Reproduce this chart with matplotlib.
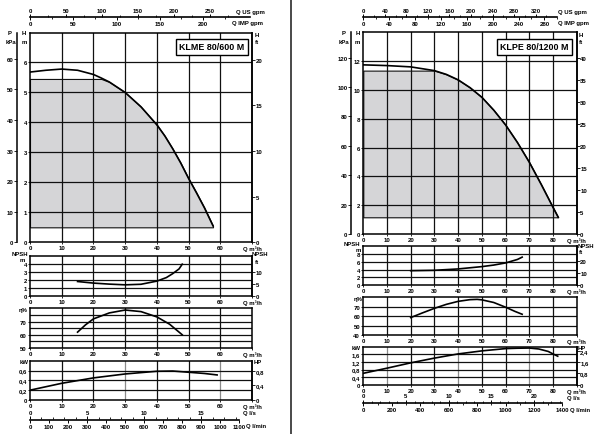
import numpy as np
import matplotlib
matplotlib.use("Agg")
import matplotlib.pyplot as plt
from matplotlib.lines import Line2D
from matplotlib import font_manager

plt.rcParams["font.family"] = "Liberation Sans"
plt.rcParams["font.weight"] = "bold"

W, H = 603, 435
FS = 4.3

# unit conversions
M_TO_KPA = 9.80665
M_TO_FT = 3.28084
KW_TO_HP = 1.34102
M3H_TO_USGPM = 4.40287
M3H_TO_IMPGPM = 3.66615
M3H_TO_LS = 1 / 3.6
M3H_TO_LMIN = 1000 / 60

# ---- KLME 80/600 M (left) ----
l_title = "KLME 80/600 M"
l_q_head = [0, 5, 10, 15, 20, 22.5, 25, 30, 35, 40, 42.5, 45, 47.5, 50, 52.5, 55, 57.7]
l_head = [5.68, 5.74, 5.78, 5.74, 5.6, 5.48, 5.35, 5.0, 4.52, 3.92, 3.55, 3.12, 2.65, 2.13, 1.65, 1.15, 0.55]
l_area_top = 5.45
l_area_bottom = 0.5
l_q_npsh = [15, 20, 25, 30, 35, 40, 43, 45, 47, 48]
l_npsh = [1.8, 1.6, 1.47, 1.38, 1.45, 1.85, 2.3, 2.8, 3.4, 4.0]
l_q_eff = [15, 17.5, 20, 25, 30, 35, 40, 44, 48]
l_eff = [62, 67.5, 72, 76.5, 78.7, 77.5, 73.5, 68, 60]
l_q_pow = [0, 10, 20, 30, 40, 45, 50, 55, 59]
l_pow = [0.2, 0.34, 0.45, 0.53, 0.585, 0.59, 0.565, 0.54, 0.51]

# ---- KLPE 80/1200 M (right) ----
r_title = "KLPE 80/1200 M"
r_q_head = [0, 10, 20, 30, 35, 40, 45, 50, 55, 60, 65, 70, 75, 80, 82.2]
r_head = [11.74, 11.69, 11.6, 11.34, 11.08, 10.7, 10.16, 9.49, 8.6, 7.57, 6.35, 4.98, 3.45, 1.85, 1.16]
r_area_top = 11.34
r_area_bottom = 1.16
r_q_npsh = [20, 30, 40, 50, 55, 60, 65, 67]
r_npsh = [3.7, 3.8, 4.15, 4.75, 5.15, 5.7, 6.6, 7.2]
r_q_eff = [20, 25, 30, 35, 40, 45, 48, 50, 55, 60, 64, 67]
r_eff = [58.5, 63.5, 68.3, 72.5, 75.7, 77.5, 77.8, 77.3, 74.5, 69.5, 65, 62]
r_q_pow = [0, 10, 20, 30, 40, 50, 60, 65, 70, 74, 78, 80, 82]
r_pow = [0.6, 0.87, 1.15, 1.4, 1.62, 1.78, 1.9, 1.92, 1.93, 1.88, 1.75, 1.62, 1.5]

fig = plt.figure(figsize=(W / 100, H / 100), dpi=100)


def px_axes(x0, y0, x1, y1):
    return fig.add_axes([x0 / W, 1 - y1 / H, (x1 - x0) / W, (y1 - y0) / H])


def ptext(x, y, s, **kw):
    kw.setdefault("fontsize", FS)
    kw.setdefault("ha", "center")
    kw.setdefault("va", "center")
    return fig.text(x / W, 1 - y / H, s, **kw)


def fmt(v):
    return f"{v:g}".replace(".", ",")


def box(ax, xmax, ylim, yticks, ygrid, gray_x=()):
    ax.set_xlim(0, xmax)
    ax.set_ylim(*ylim)
    xt = list(range(0, xmax + 1, 10))
    ax.set_xticks(xt)
    ax.set_xticklabels([str(v) for v in xt[:-1]] + ["Q m³/h"])
    ax.set_yticks(yticks)
    ax.set_yticklabels([fmt(v) for v in yticks])
    for v in xt[1:-1]:
        ax.axvline(v, color="#8a8a8a" if v in gray_x else "#111111", lw=0.9, zorder=2.5)
    for v in ygrid:
        ax.axhline(v, color="#111111", lw=0.9, zorder=2.5)
    for s in ax.spines.values():
        s.set_linewidth(1.1)
    ax.tick_params(labelsize=FS, length=1.5, width=0.6, pad=0.8)


def right_axis(ax, factor, ticks):
    t = ax.twinx()
    lo, hi = ax.get_ylim()
    t.set_ylim(lo * factor, hi * factor)
    t.set_yticks(ticks)
    t.set_yticklabels([fmt(v) for v in ticks])
    for k in ("left", "top", "bottom"):
        t.spines[k].set_visible(False)
    t.spines["right"].set_linewidth(1.1)
    t.tick_params(labelsize=FS, length=2, width=0.6, pad=0.5)
    return t


def kpa_axis(ax, ticks, offset_px):
    t = ax.twinx()
    lo, hi = ax.get_ylim()
    t.set_ylim(lo * M_TO_KPA, hi * M_TO_KPA)
    t.yaxis.tick_left()
    t.set_yticks(ticks)
    t.set_yticklabels([fmt(v) for v in ticks])
    for k in ("right", "top", "bottom"):
        t.spines[k].set_visible(False)
    t.spines["left"].set_position(("outward", offset_px * 0.72))
    t.spines["left"].set_linewidth(1.1)
    t.tick_params(labelsize=FS, length=2, width=0.6, pad=0.5)


def scale_line(x0, x1, y, xmax, bound, top_conv, top_ticks, top_minor, bot_conv, bot_ticks, bot_minor):
    a = px_axes(x0, y - 0.5, x1, y)
    a.set_xlim(0, xmax)
    a.set_ylim(0, 1)
    a.patch.set_visible(False)
    a.set_yticks([])
    for k in ("left", "right", "top"):
        a.spines[k].set_visible(False)
    a.spines["bottom"].set_linewidth(1.2)
    a.spines["bottom"].set_bounds(0, bound)
    a.set_xticks(np.array(bot_ticks) / bot_conv)
    a.set_xticklabels([str(v) for v in bot_ticks])
    a.set_xticks(np.array(bot_minor) / bot_conv, minor=True)
    a.tick_params(axis="x", which="major", labelsize=FS, length=2.2, width=0.7, pad=0.8)
    a.tick_params(axis="x", which="minor", length=1.6, width=0.6)
    b = a.twiny()
    b.set_xlim(0, xmax)
    for s in b.spines.values():
        s.set_visible(False)
    b.set_xticks(np.array(top_ticks) / top_conv)
    b.set_xticklabels([str(v) for v in top_ticks])
    b.set_xticks(np.array(top_minor) / top_conv, minor=True)
    b.tick_params(axis="x", which="major", labelsize=FS, length=2.2, width=0.7, pad=0.8)
    b.tick_params(axis="x", which="minor", length=1.6, width=0.6)


def title_font():
    try:
        font_manager.findfont("Liberation Sans Narrow", fallback_to_default=False)
        return "Liberation Sans Narrow", 7.2
    except ValueError:
        return "Liberation Sans", 6.4


def panel(x0, x1, rows, xmax, head, npsh, eff, pw, title, tpos, labels):
    # rows: y-extents (top, bottom) of main, npsh, eff, power
    fam, tsize = title_font()

    # main head chart
    q, hd, hmax, hstep, a_top, a_bot, kpa_t, ft_t = head
    ax = px_axes(x0, rows[0][0], x1, rows[0][1])
    box(ax, xmax, (0, hmax), np.arange(0, hmax - hstep / 2, hstep), np.arange(hstep, hmax - hstep / 2, hstep))
    q = np.array(q)
    hd = np.array(hd)
    ax.fill_between(q, a_bot, np.minimum(hd, a_top), facecolor="#d5d5d7",
                    edgecolor="#111111", lw=0.8, zorder=2)
    ax.plot(q, hd, color="black", lw=1.2, zorder=3)
    right_axis(ax, M_TO_FT, ft_t)
    kpa_axis(ax, kpa_t, x0 - labels["kpa_x"])
    ptext(tpos[0], tpos[1], title, fontsize=tsize, family=fam, fontweight="bold",
          bbox=dict(boxstyle="square,pad=0.35", fc="white", ec="black", lw=1.0))

    # npsh
    q, v, ymax, yt, yg, ft_t = npsh
    ax = px_axes(x0, rows[1][0], x1, rows[1][1])
    box(ax, xmax, (0, ymax), yt, yg)
    ax.plot(q, v, color="black", lw=1.2, zorder=3)
    right_axis(ax, M_TO_FT, ft_t)

    # efficiency
    q, v, ylim, yt, yg = eff
    ax = px_axes(x0, rows[2][0], x1, rows[2][1])
    box(ax, xmax, ylim, yt, yg)
    ax.plot(q, v, color="black", lw=1.2, zorder=3)

    # power
    q, v, ymax, yt, yg, hp_t, gx = pw
    ax = px_axes(x0, rows[3][0], x1, rows[3][1])
    box(ax, xmax, (0, ymax), yt, yg, gray_x=gx)
    ax.plot(q, v, color="black", lw=1.2, zorder=3)
    right_axis(ax, KW_TO_HP, hp_t)

    for s, (x, y) in labels["texts"]:
        ptext(x, y, s)


panel(30, 252, [(33.5, 243.3), (257.3, 296.7), (309.3, 349), (361.7, 401)], 70,
      (l_q_head, l_head, 7, 1, l_area_top, l_area_bottom, [0, 10, 20, 30, 40, 50, 60], [0, 5, 10, 15, 20]),
      (l_q_npsh, l_npsh, 5, [0, 1, 2, 3, 4], [1, 2, 3, 4], [0, 5, 10]),
      (l_q_eff, l_eff, (50, 80), [50, 60, 70], [55, 60, 65, 70, 75]),
      (l_q_pow, l_pow, 0.8, [0, 0.2, 0.4, 0.6], [0.2, 0.4, 0.6], [0, 0.4, 0.8], (30, 60)),
      l_title, (212, 48),
      {"kpa_x": 17,
       "texts": [("P", (10, 33.5)), ("kPa", (11, 42)), ("H", (24, 33.5)), ("m", (24, 42)),
                 ("H", (256.5, 36)), ("ft", (256.5, 42)),
                 ("NPSH", (20, 254.5)), ("m", (22.5, 260.7)), ("NPSH", (260, 254.5)), ("ft", (256.5, 262.5)),
                 ("η%", (23, 311)), ("kW", (24, 362.3)), ("HP", (258, 362.3)),
                 ("Q US gpm", (250, 12.3)), ("Q IMP gpm", (248, 23.3)),
                 ("Q l/s", (249, 414)), ("Q l/min", (256.5, 426.5))]})

panel(363.3, 576.7, [(33.3, 235), (247.3, 286), (298.3, 336), (347.7, 385.7)], 90,
      (r_q_head, r_head, 14, 2, r_area_top, r_area_bottom, [0, 20, 40, 60, 80, 100, 120], list(range(0, 41, 5))),
      (r_q_npsh, r_npsh, 10, [0, 2, 4, 6, 8], [2, 4, 6, 8], [0, 10, 20]),
      (r_q_eff, r_eff, (40, 80), [40, 50, 60, 70], [50, 60, 70]),
      (r_q_pow, r_pow, 2.0, [0, 0.4, 0.8, 1.2, 1.6], [0.4, 0.8, 1.2, 1.6], [0, 0.8, 1.6, 2.4], (10, 40, 70)),
      r_title, (534.5, 48),
      {"kpa_x": 351,
       "texts": [("P", (344, 33.5)), ("kPa", (344, 42)), ("H", (357.5, 33.5)), ("m", (357.5, 42)),
                 ("H", (580.5, 36)), ("ft", (580.5, 42)),
                 ("NPSH", (352, 245)), ("m", (358.5, 251)), ("NPSH", (585.5, 246.5)), ("ft", (580.5, 253)),
                 ("η%", (358, 299)), ("kW", (356, 348)), ("HP", (582, 348)),
                 ("Q US gpm", (572.5, 12.3)), ("Q IMP gpm", (573, 23.3)),
                 ("Q l/s", (573, 399)), ("Q l/min", (580, 411))]})

# flow scales above and below each panel
scale_line(30, 252, 18.3, 70, 69.5,
           M3H_TO_USGPM, [0, 50, 100, 150, 200, 250], [25, 75, 125, 175, 225, 275],
           M3H_TO_IMPGPM, [0, 50, 100, 150, 200], [25, 75, 125, 175, 225])
scale_line(30, 252, 420.5, 70, 66,
           M3H_TO_LS, [0, 5, 10, 15], list(range(1, 19)),
           M3H_TO_LMIN, list(range(0, 1101, 100)), [])
scale_line(363.3, 576.7, 18.3, 90, 81.8,
           M3H_TO_USGPM, list(range(0, 321, 40)), list(range(20, 361, 40)),
           M3H_TO_IMPGPM, list(range(0, 281, 40)), list(range(20, 301, 40)))
scale_line(363.3, 576.7, 404, 90, 84,
           M3H_TO_LS, [0, 5, 10, 15, 20], list(range(1, 24)),
           M3H_TO_LMIN, list(range(0, 1401, 200)), list(range(100, 1400, 200)))

# page edge of the left sheet
fig.add_artist(Line2D([291 / W, 291 / W], [0, 1], color="#4a4a4a", lw=1.4))

fig.savefig("out.png", dpi=100)
